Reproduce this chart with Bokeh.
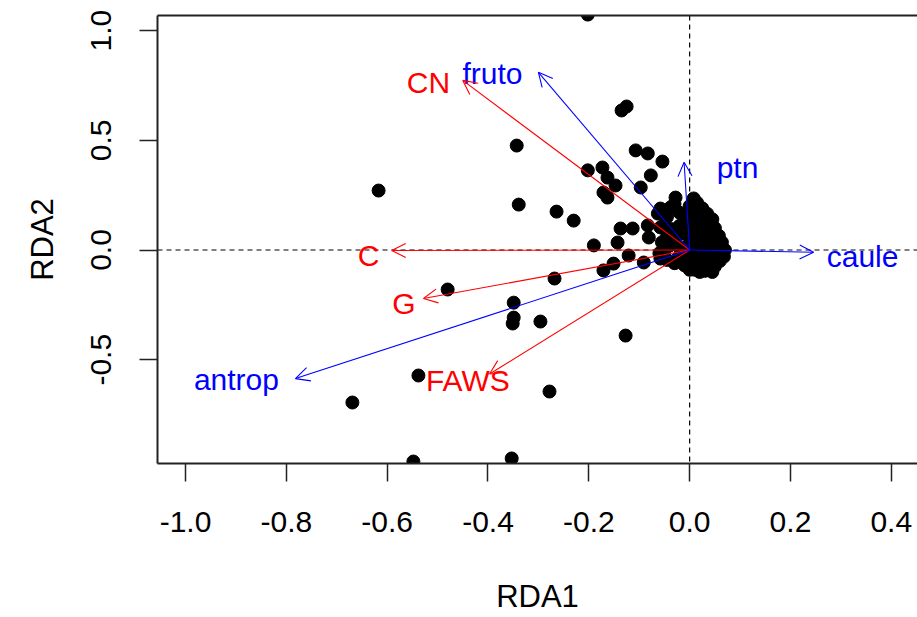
from bokeh.plotting import figure
from bokeh.models import (Range1d, FixedTicker, NumeralTickFormatter, LinearAxis,
                          Span, Arrow, OpenHead, ColumnDataSource)
from bokeh.core.properties import value
from bokeh.embed import file_html
from bokeh.resources import INLINE

# ---- site scores (RDA1, RDA2) ----
sites_x = [-0.202, -0.135, -0.125, -0.343, -0.107, -0.083, -0.054, -0.077, -0.173, -0.202,
           -0.163, -0.147, -0.171, -0.163, -0.097, -0.028, -0.058, -0.038, -0.230, -0.190,
           -0.137, -0.113, -0.083, -0.143, -0.081, -0.171, -0.151, -0.063, -0.058, -0.617,
           -0.339, -0.264, -0.480, -0.349, -0.349, -0.351, -0.296, -0.268, -0.127, -0.538,
           -0.669, -0.278, -0.548, -0.353, -0.121, -0.091, -0.058, -0.028,
           0.008, 0.015, 0.000, 0.025, 0.012, 0.035, -0.008, 0.022, 0.045,
           0.000, 0.015, 0.035, 0.050, -0.020, -0.035, 0.005, 0.025, 0.045, 0.058,
           -0.015, 0.010, 0.030, 0.048, 0.064, -0.030, -0.045,
           0.000, 0.020, 0.040, 0.058, 0.070, -0.020, -0.040, 0.010, 0.030, 0.050,
           0.068, -0.010, 0.015, 0.040, 0.060, -0.025, -0.050, -0.060, -0.055, -0.040, -0.050,
           0.000, 0.020, 0.035, 0.050, 0.010, 0.030, 0.045, 0.020, -0.010, 0.000, -0.030, -0.045,
           -0.030, -0.020, -0.045]
sites_y = [1.073, 0.636, 0.654, 0.476, 0.454, 0.440, 0.403, 0.340, 0.376, 0.363,
           0.330, 0.294, 0.262, 0.239, 0.285, 0.239, 0.189, 0.194, 0.134, 0.021,
           0.098, 0.098, 0.112, 0.034, 0.057, -0.093, -0.062, 0.166, 0.103, 0.271,
           0.207, 0.175, -0.180, -0.240, -0.308, -0.335, -0.326, -0.130, -0.390, -0.572,
           -0.695, -0.645, -0.964, -0.950, -0.025, -0.057, -0.039, -0.057,
           0.235, 0.215, 0.200, 0.190, 0.175, 0.165, 0.160, 0.150, 0.140,
           0.130, 0.120, 0.115, 0.100, 0.110, 0.095, 0.095, 0.085, 0.080, 0.065,
           0.075, 0.060, 0.055, 0.045, 0.035, 0.050, 0.060,
           0.030, 0.020, 0.015, 0.010, 0.000, 0.010, 0.020, -0.010, -0.015, -0.020,
           -0.030, -0.025, -0.040, -0.045, -0.050, -0.040, 0.000, -0.015, 0.035, 0.085, 0.115,
           -0.055, -0.070, -0.080, -0.075, -0.090, -0.095, -0.100, -0.100, -0.070, -0.090, -0.060, -0.045,
           0.210, 0.170, 0.150]

# ---- biplot arrows ----
red_names = ["CN", "C", "G", "FAWS"]
red_x = [-0.450, -0.591, -0.528, -0.397]
red_y = [0.773, -0.002, -0.221, -0.565]
red_lab_x = [-0.518, -0.637, -0.567, -0.440]
red_lab_y = [0.763, -0.025, -0.244, -0.595]

blue_names = ["fruto", "ptn", "caule", "antrop"]
blue_x = [-0.300, -0.011, 0.246, -0.782]
blue_y = [0.810, 0.400, -0.010, -0.586]
blue_lab_x = [-0.391, 0.095, 0.343, -0.899]
blue_lab_y = [0.804, 0.376, -0.030, -0.590]

x_ticks = [-1.0, -0.8, -0.6, -0.4, -0.2, 0.0, 0.2, 0.4]
y_ticks = [-0.5, 0.0, 0.5, 1.0]

FONT = "Liberation Sans"
FS_TICK = "30px"
FS_LAB = "31px"
FS_TXT = "30px"

p = figure(width=917, height=617, output_backend="svg", toolbar_location=None,
           x_range=Range1d(-1.0556, 0.452), y_range=Range1d(-0.973, 1.0688),
           min_border_left=157, min_border_right=0, min_border_top=15, min_border_bottom=154,
           x_axis_label="RDA1", y_axis_label="RDA2")
p.outline_line_color = None
p.grid.visible = False
p.background_fill_color = "white"
p.border_fill_color = "white"

for ax, ticks in ((p.xaxis[0], x_ticks), (p.yaxis[0], y_ticks)):
    ax.ticker = FixedTicker(ticks=ticks)
    ax.formatter = NumeralTickFormatter(format="0.0")
    ax.axis_line_color = "#222222"
    ax.axis_line_width = 2
    ax.major_tick_line_color = "#222222"
    ax.major_tick_line_width = 1.5
    ax.major_tick_out = 18
    ax.major_tick_in = 0
    ax.minor_tick_line_color = None
    ax.major_label_text_font = FONT
    ax.major_label_text_font_size = FS_TICK
    ax.major_label_text_color = "black"
    ax.axis_label_text_font = FONT
    ax.axis_label_text_font_size = FS_LAB
    ax.axis_label_text_font_style = "normal"
    ax.axis_label_text_color = "black"

p.xaxis[0].major_label_standoff = 30
p.xaxis[0].axis_label_standoff = 44
p.yaxis[0].major_label_orientation = "vertical"
p.yaxis[0].major_label_standoff = 28
p.yaxis[0].axis_label_standoff = 29

top = LinearAxis(ticker=FixedTicker(ticks=[]), axis_line_color="#222222", axis_line_width=2,
                 major_tick_line_color=None, minor_tick_line_color=None,
                 major_label_text_font_size="0px")
p.add_layout(top, "above")

p.add_layout(Span(location=0, dimension="width", line_color="black", line_dash="5 4",
                  line_width=1.2, level="underlay"))
p.add_layout(Span(location=0, dimension="height", line_color="black", line_dash="5 4",
                  line_width=1.2, level="underlay"))

p.scatter(sites_x, sites_y, size=13, color="black")

for xs, ys, col in ((red_x, red_y, "red"), (blue_x, blue_y, "blue")):
    src = ColumnDataSource(dict(x0=[0.0] * len(xs), y0=[0.0] * len(xs), x1=xs, y1=ys))
    p.add_layout(Arrow(source=src, x_start="x0", y_start="y0", x_end="x1", y_end="y1",
                       line_color=col, line_width=1.1,
                       end=OpenHead(size=14, line_color=col, line_width=1.1)))

p.text(red_lab_x, red_lab_y, text=red_names, text_color="red", text_font=value(FONT),
       text_font_size=FS_TXT, text_align="center", text_baseline="middle")
p.text(blue_lab_x, blue_lab_y, text=blue_names, text_color="blue", text_font=value(FONT),
       text_font_size=FS_TXT, text_align="center", text_baseline="middle")

open("out.html", "w").write(file_html(p, INLINE))
